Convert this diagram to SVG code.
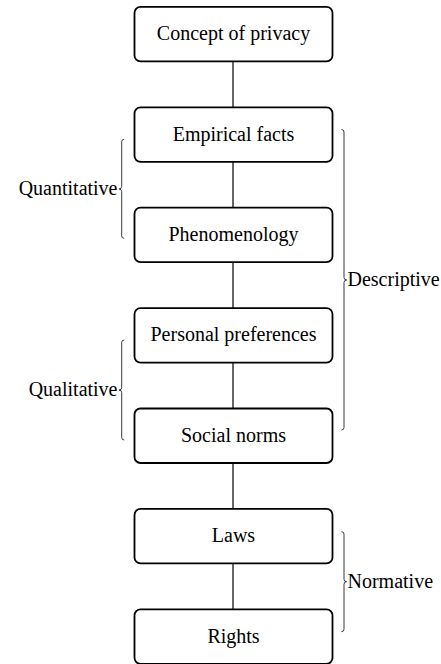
<svg xmlns="http://www.w3.org/2000/svg" width="441" height="664" viewBox="0 0 441 664">
<style>
.box{fill:#fff;stroke:#000;stroke-width:1.8}
.lbl{font-family:"Liberation Serif","Times New Roman",serif;font-size:20px;fill:#000}
.mid{text-anchor:middle}
.end{text-anchor:end}
.edge{stroke:#000;stroke-width:1.2;fill:none}
.brace{stroke:#222;stroke-width:0.9;fill:none}
</style>
<rect width="441" height="664" fill="#fff"/>
<g id="connectors">
<line class="edge" x1="233" y1="61.4" x2="233" y2="107.3"/>
<line class="edge" x1="233" y1="161.8" x2="233" y2="207.7"/>
<line class="edge" x1="233" y1="262.2" x2="233" y2="308.1"/>
<line class="edge" x1="233" y1="362.6" x2="233" y2="408.5"/>
<line class="edge" x1="233" y1="463" x2="233" y2="508.9"/>
<line class="edge" x1="233" y1="563.4" x2="233" y2="609.3"/>
</g>
<g id="concept"><rect class="box" x="134.5" y="6.9" width="198" height="54.5" rx="6"/><text class="lbl mid" x="233.5" y="40.2">Concept of privacy</text></g>
<g id="empirical"><rect class="box" x="134.5" y="107.3" width="198" height="54.5" rx="6"/><text class="lbl mid" x="233.5" y="140.6">Empirical facts</text></g>
<g id="phenomenology"><rect class="box" x="134.5" y="207.7" width="198" height="54.5" rx="6"/><text class="lbl mid" x="233.5" y="241">Phenomenology</text></g>
<g id="preferences"><rect class="box" x="134.5" y="308.1" width="198" height="54.5" rx="6"/><text class="lbl mid" x="233.5" y="341.4">Personal preferences</text></g>
<g id="norms"><rect class="box" x="134.5" y="408.5" width="198" height="54.5" rx="6"/><text class="lbl mid" x="233.5" y="441.8">Social norms</text></g>
<g id="laws"><rect class="box" x="134.5" y="508.9" width="198" height="54.5" rx="6"/><text class="lbl mid" x="233.5" y="542.2">Laws</text></g>
<g id="rights"><rect class="box" x="134.5" y="609.3" width="198" height="54.5" rx="6"/><text class="lbl mid" x="233.5" y="642.6">Rights</text></g>
<g id="quantitative">
<path class="brace" d="M124.2,139.3 Q121.7,139.3 121.7,141.8 L121.7,186.5 Q121.7,189 119,189 Q121.7,189 121.7,191.5 L121.7,235.8 Q121.7,238.3 124.2,238.3"/>
<text class="lbl end" x="117.5" y="195">Quantitative</text>
</g>
<g id="qualitative">
<path class="brace" d="M124.2,340 Q121.7,340 121.7,342.5 L121.7,387.5 Q121.7,390 119,390 Q121.7,390 121.7,392.5 L121.7,437.5 Q121.7,440 124.2,440"/>
<text class="lbl end" x="117.5" y="396">Qualitative</text>
</g>
<g id="descriptive">
<path class="brace" d="M341.5,129.5 Q344,129.5 344,132 L344,277.5 Q344,280 346.7,280 Q344,280 344,282.5 L344,427.5 Q344,430 341.5,430"/>
<text class="lbl" x="347.5" y="286">Descriptive</text>
</g>
<g id="normative">
<path class="brace" d="M341.5,531.7 Q344,531.7 344,534.2 L344,579.2 Q344,581.7 346.7,581.7 Q344,581.7 344,584.2 L344,629.2 Q344,631.7 341.5,631.7"/>
<text class="lbl" x="347.5" y="587.7">Normative</text>
</g>
</svg>
